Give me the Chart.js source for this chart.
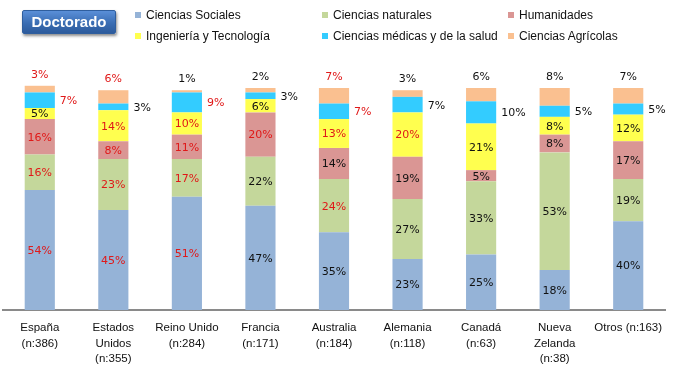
<!DOCTYPE html>
<html>
<head>
<meta charset="utf-8">
<script src="https://cdn.jsdelivr.net/npm/chart.js@4/dist/chart.umd.min.js"></script>
<style>
  html, body { margin: 0; padding: 0; background: #fff; }
  #wrap { position: relative; width: 678px; height: 370px; overflow: hidden; }
  #chart { position: absolute; left: 0; top: 0; }
  #badge {
    position: absolute; left: 22px; top: 10px; width: 94px; height: 24px;
    background: linear-gradient(#5a8fd8, #3a6db3 55%, #2d5b9c);
    border: 1px solid #2f5e9e; border-radius: 2px;
    box-shadow: 1px 2px 3px rgba(0,0,0,0.45);
    color: #fff; font: bold 15px "Liberation Sans", Arial, sans-serif;
    line-height: 22px; text-align: center; box-sizing: border-box;
  }
  .lg { position: absolute; font: 12px "Liberation Sans", Arial, sans-serif; color: #111; white-space: nowrap; line-height: 14px; }
  .lg span.sw { position: absolute; left: 0; top: 4px; width: 6px; height: 6px; }
  .lg span.tx { position: absolute; left: 11px; top: 0; }
</style>
</head>
<body>
<div id="wrap">
  <canvas id="chart" width="678" height="370"></canvas>
  <div id="badge">Doctorado</div>
  <div id="legend"></div>
</div>
<script>
// ---- Data ----
const categories = [
  ["España", "(n:386)"],
  ["Estados", "Unidos", "(n:355)"],
  ["Reino Unido", "(n:284)"],
  ["Francia", "(n:171)"],
  ["Australia", "(n:184)"],
  ["Alemania", "(n:118)"],
  ["Canadá", "(n:63)"],
  ["Nueva", "Zelanda", "(n:38)"],
  ["Otros (n:163)"]
];
const seriesNames = [
  "Ciencias Sociales",
  "Ciencias naturales",
  "Humanidades",
  "Ingeniería y Tecnología",
  "Ciencias médicas y de la salud",
  "Ciencias Agrícolas"
];
const cienciasSociales   = [54, 45, 51, 47, 35, 23, 25, 18, 40];
const cienciasNaturales  = [16, 23, 17, 22, 24, 27, 33, 53, 19];
const humanidades        = [16,  8, 11, 20, 14, 19,  5,  8, 17];
const ingenieria         = [ 5, 14, 10,  6, 13, 20, 21,  8, 12];
const cienciasMedicas    = [ 7,  3,  9,  3,  7,  7, 10,  5,  5];
const cienciasAgricolas  = [ 3,  6,  1,  2,  7,  3,  6,  8,  7];

// ---- Styles ----
const seriesColors = ["#95b3d7", "#c4d79b", "#da9694", "#ffff4f", "#33ccff", "#fac090"];
const R = "#e01818", K = "#111111";
const labelColors = [
  [R, R, R, K, K, K, K, K, K],
  [R, R, R, K, R, K, K, K, K],
  [R, R, R, R, K, K, K, K, K],
  [K, R, R, K, R, R, K, K, K],
  [R, K, R, K, R, K, K, K, K],
  [R, R, K, K, R, K, K, K, K]
];

const seriesData = [cienciasSociales, cienciasNaturales, humanidades, ingenieria, cienciasMedicas, cienciasAgricolas];

// Legend (HTML, 3 columns x 2 rows)
const legendPos = [[135, 8], [322, 8], [508, 8], [135, 29], [322, 29], [508, 29]];
const legendEl = document.getElementById('legend');
seriesNames.forEach((n, i) => {
  const d = document.createElement('div');
  d.className = 'lg';
  d.style.left = legendPos[i][0] + 'px';
  d.style.top = legendPos[i][1] + 'px';
  d.innerHTML = '<span class="sw" style="background:' + seriesColors[i] + '"></span><span class="tx"></span>';
  d.querySelector('.tx').textContent = n;
  legendEl.appendChild(d);
});

const labelPlugin = {
  id: 'segLabels',
  afterDatasetsDraw(chart) {
    const ctx = chart.ctx;
    ctx.save();
    ctx.font = '11px "DejaVu Sans", Verdana, sans-serif';
    ctx.textBaseline = 'middle';
    chart.data.datasets.forEach((ds, d) => {
      const meta = chart.getDatasetMeta(d);
      meta.data.forEach((el, i) => {
        const v = ds.data[i];
        const txt = v + '%';
        ctx.fillStyle = labelColors[d][i];
        const top = Math.min(el.y, el.base), bot = Math.max(el.y, el.base);
        if (d < 4) {
          ctx.textAlign = 'center';
          ctx.fillText(txt, el.x, (top + bot) / 2 + 1);
        } else if (d === 4) {
          ctx.textAlign = 'left';
          ctx.fillText(txt, el.x + el.width / 2 + 5, (top + bot) / 2 + 1);
        } else {
          ctx.textAlign = 'center';
          ctx.fillText(txt, el.x, top - 11);
        }
      });
    });
    ctx.restore();
  }
};

new Chart(document.getElementById('chart'), {
  type: 'bar',
  data: {
    labels: categories,
    datasets: seriesData.map((arr, i) => ({
      label: seriesNames[i],
      data: arr,
      backgroundColor: seriesColors[i],
      borderWidth: 0,
      barPercentage: 0.41,
      categoryPercentage: 1,
      clip: false
    }))
  },
  options: {
    responsive: false,
    animation: false,
    devicePixelRatio: 1,
    layout: { padding: { left: 3, right: 13, top: 88, bottom: 2 } },
    plugins: { legend: { display: false }, tooltip: { enabled: false } },
    scales: {
      x: {
        stacked: true,
        grid: { display: false, drawTicks: false },
        border: { display: true, color: '#8a8a8a', width: 2 },
        afterFit(scale) { scale.height = 58; },
        ticks: {
          color: '#111',
          font: { family: '"Liberation Sans", Arial, sans-serif', size: 11.5, lineHeight: 1.36 },
          padding: 10,
          maxRotation: 0,
          autoSkip: false
        }
      },
      y: {
        stacked: true,
        display: false,
        min: 0,
        max: 100
      }
    }
  },
  plugins: [labelPlugin]
});
</script>
</body>
</html>
